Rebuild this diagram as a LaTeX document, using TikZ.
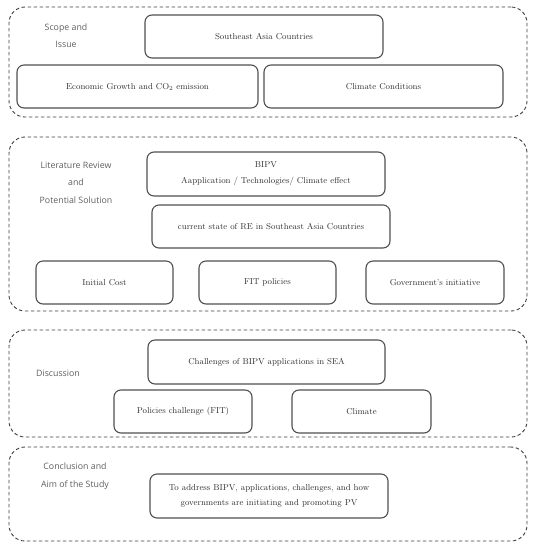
\documentclass[tikz,border=0pt]{standalone}
\usepackage{fontspec}
\usepackage{xcolor}
\usepackage{tikz}
\newfontfamily\labelfont{Open Sans}
\definecolor{boxgray}{HTML}{505050}
\definecolor{textgray}{HTML}{303030}
\definecolor{labelgray}{HTML}{606060}

\begin{document}
\begin{tikzpicture}[
    x=1pt, y=-1pt,
    every node/.style={font=\fontsize{8.6}{10}\selectfont, text=textgray},
    box/.style={draw=boxgray, line width=1.1pt, rounded corners=7pt, minimum height=43pt, align=center, inner sep=0pt},
    group/.style={draw=black!75, dash pattern=on 3.5pt off 2.5pt, line width=0.9pt, rounded corners=16pt, minimum width=518pt},
    stage/.style={font=\labelfont\fontsize{8.8}{17.5}\selectfont, text=labelgray, align=center}
]
\useasboundingbox (0,0) rectangle (539,550);

% Groups
\node[group, minimum height=110pt] (scope) at (268,62) {};
\node[group, minimum height=174pt] (review) at (268,224) {};
\node[group, minimum height=107pt] (discuss) at (268,383.5) {};
\node[group, minimum height=94pt] (concl) at (268,494) {};

% Group labels
\node[stage] (scopelbl) at (66,35.5) {Scope and\\Issue};
\node[stage] (reviewlbl) at (76,182.5) {Literature Review\\and\\Potential Solution};
\node[stage] (discusslbl) at (58,373) {Discussion};
\node[stage] (concllbl) at (75,476) {Conclusion and\\Aim of the Study};

% Scope and Issue
\node[box, minimum width=238pt] (sea) at (264,36.5) {Southeast Asia Countries};
\node[box, minimum width=241pt] (econ) at (137.5,86.5) {Economic Growth and CO\textsubscript{2} emission};
\node[box, minimum width=239pt] (climcond) at (383.5,86.5) {Climate Conditions};

% Literature Review and Potential Solution
\node[box, minimum width=238pt, minimum height=44pt, font=\fontsize{8.6}{16}\selectfont] (bipv) at (266,174) {BIPV\\Aapplication / Technologies/ Climate effect};
\node[box, minimum width=238pt] (state) at (271,226.5) {current state of RE in Southeast Asia Countries};
\node[box, minimum width=137pt] (cost) at (104.5,282.5) {Initial Cost};
\node[box, minimum width=137pt] (fit) at (267.5,282.5) {FIT policies};
\node[box, minimum width=138pt] (gov) at (435,282.5) {Government's initiative};

% Discussion
\node[box, minimum width=237pt, minimum height=44pt] (chall) at (266.5,362) {Challenges of BIPV applications in SEA};
\node[box, minimum width=138pt] (policy) at (183,411.5) {Policies challenge (FIT)};
\node[box, minimum width=139pt] (climate) at (361.5,411.5) {Climate};

% Conclusion and Aim of the Study
\node[box, minimum width=238pt, minimum height=44pt, font=\fontsize{8.6}{15}\selectfont] (aim) at (269,496) {To address BIPV, applications, challenges, and how\\governments are initiating and promoting PV};
\end{tikzpicture}
\end{document}
